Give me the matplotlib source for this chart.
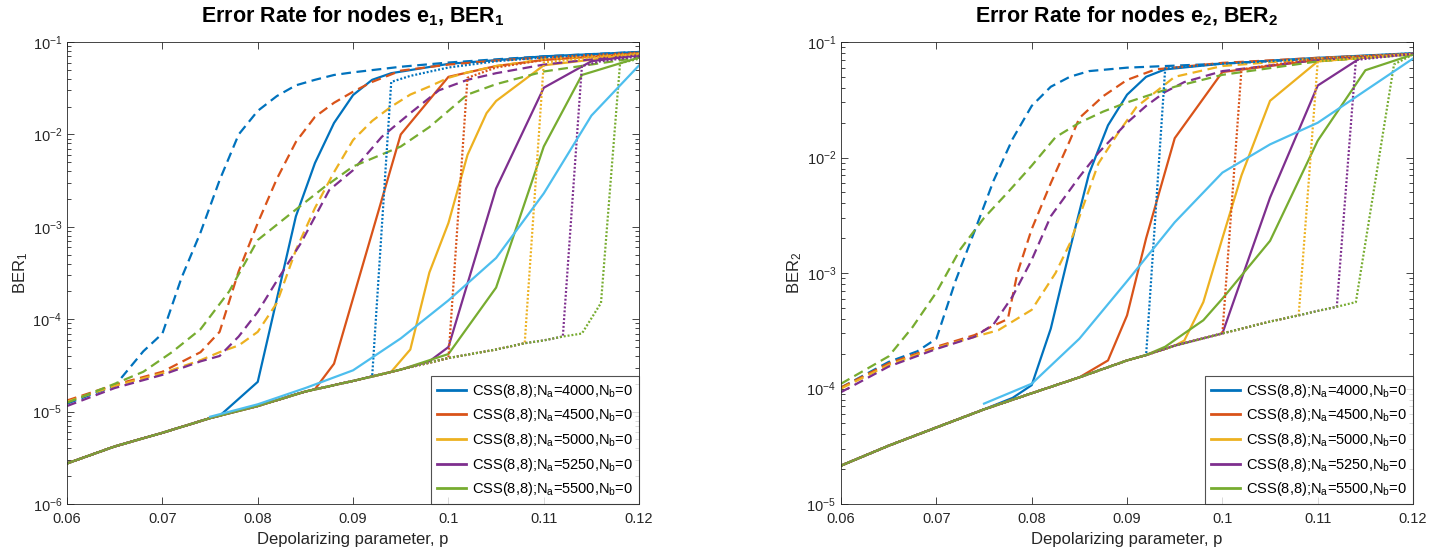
import numpy as np
import matplotlib
matplotlib.use("Agg")
import matplotlib.pyplot as plt
from matplotlib.ticker import LogLocator, NullFormatter

plt.rcParams['font.family'] = ['Liberation Sans', 'DejaVu Sans']
plt.rcParams['mathtext.fontset'] = 'custom'
plt.rcParams['mathtext.rm'] = 'Liberation Sans'
plt.rcParams['mathtext.it'] = 'Liberation Sans'
plt.rcParams['mathtext.bf'] = 'Liberation Sans:bold'
plt.rcParams['lines.scale_dashes'] = False

# MATLAB default colours
c_blue, c_orange, c_yellow = '#0072BD', '#D95319', '#EDB120'
c_purple, c_green, c_light = '#7E2F8E', '#77AC30', '#4DBEEE'
colors = [c_blue, c_orange, c_yellow, c_purple, c_green]
na_values = [4000, 4500, 5000, 5250, 5500]

x_ticks = [0.06, 0.07, 0.08, 0.09, 0.1, 0.11, 0.12]
x_tick_labels = ['0.06', '0.07', '0.08', '0.09', '0.1', '0.11', '0.12']

# ---- common low-p branch (solid / dotted curves sit on it) ----
p_low = [0.06, 0.065, 0.07, 0.075, 0.08, 0.085, 0.09, 0.092, 0.095, 0.1,
         0.105, 0.108, 0.11, 0.112, 0.114]
ber1_low = [2.75e-6, 4.2e-6, 5.9e-6, 8.5e-6, 1.15e-5, 1.65e-5, 2.15e-5, 2.4e-5,
            2.85e-5, 3.8e-5, 4.7e-5, 5.5e-5, 5.9e-5, 6.5e-5, 7.0e-5]
ber2_low = [2.15e-5, 3.2e-5, 4.6e-5, 6.6e-5, 9.1e-5, 1.25e-4, 1.75e-4, 1.95e-4,
            2.35e-4, 3.0e-4, 3.8e-4, 4.3e-4, 4.7e-4, 5.1e-4, 5.6e-4]

# ===== panel 1 : BER_1 =====
# solid: (last shared low-p point, tail p, tail ber)
solid1_from = [0.075, 0.085, 0.092, 0.095, 0.095]
solid1_p = [[0.076, 0.08, 0.084, 0.086, 0.088, 0.09, 0.092, 0.094, 0.1, 0.11, 0.12],
            [0.086, 0.088, 0.095, 0.1, 0.105, 0.11, 0.12],
            [0.094, 0.096, 0.098, 0.1, 0.102, 0.104, 0.105, 0.11, 0.12],
            [0.098, 0.1, 0.105, 0.11, 0.115, 0.12],
            [0.1, 0.105, 0.11, 0.114, 0.12]]
solid1_ber = [[9.0e-6, 2.1e-5, 1.3e-3, 4.9e-3, 1.33e-2, 2.67e-2, 3.9e-2, 4.6e-2, 5.8e-2, 7.0e-2, 7.8e-2],
              [1.75e-5, 3.3e-5, 1.0e-2, 4.2e-2, 5.5e-2, 6.4e-2, 7.5e-2],
              [2.7e-5, 4.7e-5, 3.2e-4, 1.1e-3, 6.0e-3, 1.7e-2, 2.3e-2, 5.6e-2, 7.4e-2],
              [3.5e-5, 5.0e-5, 2.6e-3, 3.2e-2, 6.2e-2, 7.2e-2],
              [4.2e-5, 2.2e-4, 7.4e-3, 4.4e-2, 6.8e-2]]

dash1_p = [[0.06, 0.065, 0.068, 0.07, 0.072, 0.074, 0.076, 0.078, 0.08, 0.082, 0.084, 0.086,
            0.088, 0.09, 0.095, 0.1, 0.105, 0.11, 0.115, 0.12],
           [0.06, 0.065, 0.07, 0.074, 0.076, 0.078, 0.08, 0.082, 0.084, 0.086, 0.088, 0.09,
            0.092, 0.095, 0.1, 0.105, 0.11, 0.12],
           [0.06, 0.065, 0.07, 0.074, 0.076, 0.078, 0.08, 0.082, 0.084, 0.086, 0.088, 0.09,
            0.092, 0.094, 0.096, 0.098, 0.1, 0.102, 0.105, 0.11, 0.12],
           [0.06, 0.065, 0.07, 0.074, 0.076, 0.078, 0.08, 0.082, 0.0845, 0.0875, 0.09, 0.093,
            0.096, 0.099, 0.102, 0.105, 0.11, 0.115, 0.12],
           [0.06, 0.065, 0.068, 0.071, 0.074, 0.077, 0.08, 0.0835, 0.087, 0.09, 0.095, 0.098,
            0.102, 0.105, 0.11, 0.12]]
dash1_ber = [[1.22e-5, 1.9e-5, 4.5e-5, 7.0e-5, 2.8e-4, 8.7e-4, 3.2e-3, 1.0e-2, 1.8e-2, 2.6e-2,
              3.4e-2, 3.9e-2, 4.4e-2, 4.7e-2, 5.4e-2, 6.0e-2, 6.5e-2, 7.0e-2, 7.4e-2, 7.8e-2],
             [1.32e-5, 1.95e-5, 2.7e-5, 4.4e-5, 7.3e-5, 3.3e-4, 1.1e-3, 3.3e-3, 8.3e-3, 1.55e-2,
              2.2e-2, 2.9e-2, 3.7e-2, 4.9e-2, 5.7e-2, 6.3e-2, 6.8e-2, 7.7e-2],
             [1.28e-5, 1.9e-5, 2.6e-5, 3.6e-5, 4.4e-5, 5.2e-5, 7.3e-5, 1.5e-4, 5.6e-4, 1.6e-3,
              3.9e-3, 8.7e-3, 1.4e-2, 2.0e-2, 2.7e-2, 3.3e-2, 4.1e-2, 4.7e-2, 5.5e-2, 6.5e-2, 7.5e-2],
             [1.15e-5, 1.8e-5, 2.5e-5, 3.5e-5, 4.0e-5, 6.5e-5, 1.2e-4, 2.6e-4, 6.6e-4, 2.5e-3,
              4.1e-3, 9.4e-3, 1.7e-2, 3.0e-2, 3.9e-2, 4.6e-2, 5.7e-2, 6.5e-2, 7.2e-2],
             [1.25e-5, 2.0e-5, 2.7e-5, 4.4e-5, 7.8e-5, 2.0e-4, 7.2e-4, 1.4e-3, 2.7e-3, 4.5e-3,
              7.4e-3, 1.2e-2, 2.7e-2, 3.5e-2, 4.8e-2, 6.8e-2]]

dot1_from = [0.092, 0.1, 0.108, 0.112, 0.114]
dot1_p = [[0.094, 0.096, 0.1, 0.105, 0.11, 0.12],
          [0.102, 0.105, 0.11, 0.12],
          [0.11, 0.115, 0.12],
          [0.114, 0.116, 0.12],
          [0.116, 0.118, 0.12]]
dot1_ber = [[3.7e-2, 4.3e-2, 5.3e-2, 6.2e-2, 6.8e-2, 7.8e-2],
            [4.1e-2, 5.3e-2, 6.4e-2, 7.6e-2],
            [6.0e-2, 6.8e-2, 7.4e-2],
            [5.5e-2, 6.2e-2, 7.0e-2],
            [1.5e-4, 5.9e-2, 6.6e-2]]

light1_p = [0.075, 0.08, 0.085, 0.09, 0.095, 0.1, 0.105, 0.11, 0.115, 0.12]
light1_ber = [8.8e-6, 1.2e-5, 1.8e-5, 2.8e-5, 6.2e-5, 1.6e-4, 4.6e-4, 2.3e-3, 1.6e-2, 5.6e-2]

# ===== panel 2 : BER_2 =====
solid2_from = [0.075, 0.085, 0.095, 0.1, 0.092]
solid2_p = [[0.078, 0.08, 0.082, 0.084, 0.086, 0.088, 0.09, 0.092, 0.094, 0.1, 0.11, 0.12],
            [0.088, 0.09, 0.092, 0.095, 0.1, 0.11, 0.12],
            [0.096, 0.098, 0.1, 0.102, 0.105, 0.11, 0.12],
            [0.105, 0.11, 0.1145, 0.12],
            [0.094, 0.096, 0.098, 0.1, 0.105, 0.11, 0.115, 0.12]]
solid2_ber = [[8.3e-5, 1.07e-4, 3.3e-4, 1.6e-3, 7.2e-3, 1.9e-2, 3.5e-2, 5.0e-2, 5.8e-2, 6.5e-2, 7.3e-2, 8.0e-2],
              [1.75e-4, 4.3e-4, 2.0e-3, 1.47e-2, 5.5e-2, 7.0e-2, 7.9e-2],
              [2.6e-4, 5.6e-4, 2.0e-3, 7.0e-3, 3.1e-2, 6.8e-2, 7.9e-2],
              [4.5e-3, 4.2e-2, 7.3e-2, 7.9e-2],
              [2.3e-4, 3.0e-4, 3.9e-4, 6.0e-4, 1.9e-3, 1.4e-2, 5.7e-2, 7.8e-2]]

dash2_p = [[0.06, 0.065, 0.068, 0.07, 0.072, 0.074, 0.076, 0.078, 0.08, 0.082, 0.084, 0.086,
            0.09, 0.1, 0.11, 0.12],
           [0.06, 0.065, 0.07, 0.074, 0.076, 0.0775, 0.0785, 0.08, 0.082, 0.084, 0.085, 0.0875,
            0.09, 0.093, 0.1, 0.11, 0.12],
           [0.06, 0.065, 0.07, 0.074, 0.0765, 0.08, 0.0825, 0.084, 0.0855, 0.087, 0.089, 0.091,
            0.093, 0.095, 0.1, 0.11, 0.12],
           [0.06, 0.065, 0.07, 0.074, 0.076, 0.078, 0.08, 0.082, 0.085, 0.087, 0.09, 0.092,
            0.094, 0.096, 0.1, 0.11, 0.12],
           [0.06, 0.065, 0.0675, 0.07, 0.0725, 0.075, 0.0775, 0.08, 0.0825, 0.085, 0.0875, 0.09,
            0.095, 0.1, 0.11, 0.12]]
dash2_ber = [[1.02e-4, 1.7e-4, 2.1e-4, 2.7e-4, 8.5e-4, 2.3e-3, 6.3e-3, 1.45e-2, 2.8e-2, 4.1e-2,
              5.0e-2, 5.6e-2, 6.0e-2, 6.5e-2, 7.2e-2, 7.9e-2],
             [1.02e-4, 1.65e-4, 2.3e-4, 2.9e-4, 3.5e-4, 4.0e-4, 1.0e-3, 2.4e-3, 6.0e-3, 1.4e-2,
              2.2e-2, 3.4e-2, 4.7e-2, 5.8e-2, 6.6e-2, 7.3e-2, 7.9e-2],
             [1.0e-4, 1.6e-4, 2.25e-4, 2.8e-4, 3.2e-4, 4.8e-4, 1.0e-3, 1.8e-3, 4.0e-3, 8.9e-3,
              1.6e-2, 2.75e-2, 3.7e-2, 5.0e-2, 6.2e-2, 7.2e-2, 7.9e-2],
             [9.3e-5, 1.55e-4, 2.2e-4, 2.8e-4, 3.6e-4, 6.3e-4, 1.3e-3, 3.1e-3, 6.8e-3, 1.1e-2,
              2.0e-2, 2.8e-2, 3.7e-2, 4.5e-2, 5.6e-2, 7.0e-2, 7.9e-2],
             [1.1e-4, 1.9e-4, 3.4e-4, 6.8e-4, 1.6e-3, 3.0e-3, 5.0e-3, 8.5e-3, 1.5e-2, 2.0e-2,
              2.5e-2, 3.0e-2, 4.1e-2, 5.2e-2, 6.8e-2, 7.8e-2]]

dot2_from = [0.092, 0.1, 0.108, 0.112, 0.114]
dot2_p = [[0.094, 0.1, 0.11, 0.12],
          [0.102, 0.11, 0.12],
          [0.11, 0.12],
          [0.114, 0.12],
          [0.118, 0.12]]
dot2_ber = [[5.9e-2, 6.5e-2, 7.2e-2, 8.0e-2],
            [5.8e-2, 7.2e-2, 7.9e-2],
            [6.8e-2, 7.9e-2],
            [7.0e-2, 7.9e-2],
            [6.4e-2, 7.8e-2]]

light2_p = [0.075, 0.08, 0.085, 0.09, 0.095, 0.1, 0.105, 0.11, 0.115, 0.12]
light2_ber = [7.4e-5, 1.1e-4, 2.7e-4, 8.5e-4, 2.75e-3, 7.4e-3, 1.3e-2, 2.0e-2, 3.8e-2, 7.2e-2]


def branch(p_from, tail_p, tail_ber, low_ber):
    k = p_low.index(p_from) + 1
    return p_low[:k] + tail_p, low_ber[:k] + tail_ber


def draw(ax, low_ber, solid_from, solid_p, solid_ber, dash_p, dash_ber,
         dot_from, dot_p, dot_ber, light_p, light_ber, idx, ylim):
    lw = 1.6
    handles = []
    for i in range(5):
        x, y = branch(solid_from[i], solid_p[i], solid_ber[i], low_ber)
        h, = ax.plot(x, y, color=colors[i], lw=lw)
        handles.append(h)
    for i in range(5):
        ax.plot(dash_p[i], dash_ber[i], color=colors[i], lw=lw, dashes=(7, 4))
    for i in range(5):
        x, y = branch(dot_from[i], dot_p[i], dot_ber[i], low_ber)
        ax.plot(x, y, color=colors[i], lw=lw, dashes=(1.4, 1.4))
    ax.plot(light_p, light_ber, color=c_light, lw=lw)

    ax.set_yscale('log')
    ax.set_xlim(0.06, 0.12)
    ax.set_ylim(*ylim)
    ax.set_xticks(x_ticks)
    ax.set_xticklabels(x_tick_labels)
    ax.yaxis.set_major_locator(LogLocator(base=10, numticks=10))
    ax.yaxis.set_minor_locator(LogLocator(base=10, subs=np.arange(2, 10), numticks=10))
    ax.yaxis.set_minor_formatter(NullFormatter())
    ax.tick_params(which='both', direction='in', top=True, right=True,
                   colors='#262626', labelsize=10.5)
    ax.tick_params(which='major', length=5, width=0.6)
    ax.tick_params(which='minor', length=3, width=0.6)
    ax.tick_params(axis='x', pad=6)
    for s in ax.spines.values():
        s.set_color('#262626')
        s.set_linewidth(0.6)

    ax.set_title('Error Rate for nodes e$_\\mathbf{%d}$, BER$_\\mathbf{%d}$' % (idx, idx),
                 fontsize=15.5, fontweight='bold', pad=14)
    ax.set_xlabel('Depolarizing parameter, p', fontsize=12, color='#262626', labelpad=4)
    ax.set_ylabel('BER$_%d$' % idx, fontsize=12, color='#262626', labelpad=2)

    labels = ['CSS(8,8);N$_a$=%d,N$_b$=0' % n for n in na_values]
    leg = ax.legend(handles, labels, loc='lower right', borderaxespad=0,
                    fontsize=10.5, frameon=True, fancybox=False, handlelength=2.0,
                    handletextpad=0.4, labelspacing=0.45, borderpad=0.4)
    leg.get_frame().set_edgecolor('#262626')
    leg.get_frame().set_linewidth(0.8)
    for ln in leg.get_lines():
        ln.set_linewidth(2.0)


fig = plt.figure(figsize=(14.33, 5.56), dpi=100)
ax1 = fig.add_axes([0.0468, 0.0935, 0.3992, 0.8309])
ax2 = fig.add_axes([0.5869, 0.0935, 0.3992, 0.8309])

draw(ax1, ber1_low, solid1_from, solid1_p, solid1_ber, dash1_p, dash1_ber,
     dot1_from, dot1_p, dot1_ber, light1_p, light1_ber, 1, (1e-6, 1e-1))
draw(ax2, ber2_low, solid2_from, solid2_p, solid2_ber, dash2_p, dash2_ber,
     dot2_from, dot2_p, dot2_ber, light2_p, light2_ber, 2, (1e-5, 1e-1))

fig.savefig('out.png', dpi=100)
